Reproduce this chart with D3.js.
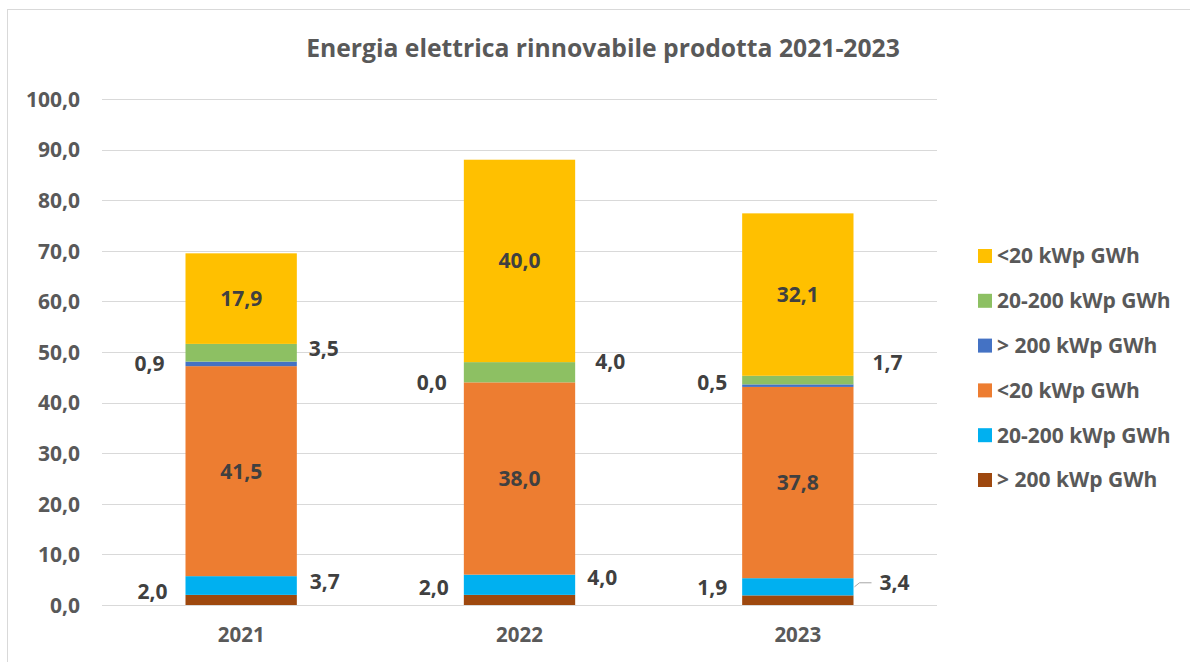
<!DOCTYPE html>
<html>
<head>
<meta charset="utf-8">
<script src="https://cdn.jsdelivr.net/npm/d3@7"></script>
<style>
  html, body { margin: 0; padding: 0; background: #fff; }
  svg { display: block; font-family: "Open Sans", "Noto Sans", sans-serif; }
</style>
</head>
<body>
<svg id="chart" width="1190" height="662"></svg>
<script>
// ---------- data ----------
const title = "Energia elettrica rinnovabile prodotta 2021-2023";
const categories = ["2021", "2022", "2023"];
const seriesNames = ["> 200 kWp GWh", "20-200 kWp GWh", "<20 kWp GWh", "> 200 kWp GWh", "20-200 kWp GWh", "<20 kWp GWh"];
const s1 = [2.0, 2.0, 1.9];     // > 200 kWp (brown)
const s2 = [3.7, 4.0, 3.4];     // 20-200 kWp (light blue)
const s3 = [41.5, 38.0, 37.8];  // <20 kWp (orange)
const s4 = [0.9, 0.0, 0.5];     // > 200 kWp (blue)
const s5 = [3.5, 4.0, 1.7];     // 20-200 kWp (green)
const s6 = [17.9, 40.0, 32.1];  // <20 kWp (yellow)
const yTicks = [0, 10, 20, 30, 40, 50, 60, 70, 80, 90, 100];

// ---------- style / layout ----------
const colors = ["#9E480E", "#00B0F0", "#ED7D31", "#4472C4", "#8DC063", "#FFC000"];
const labelSide = ["left", "right", "center", "left", "right", "center"];
// pixel nudges for the hand-placed labels: [dx, dy] per series, per category
const labelNudge = [
  [[-18, -8], [-15, -12], [-15, -13]],
  [[13, -4], [12, -7], [26, -4]],
  [[0, 0], [0, 0], [0, 0]],
  [[-21, 0], [-17, 0], [-15, -3]],
  [[12, -4], [20, -11], [19, -17]],
  [[0, 0], [0, 0], [0, 0]]
];
const textColor = "#595959";
const labelColor = "#404040";
const fontTick = 21, fontCat = 20.5, fontLabel = 21, fontLegend = 21;

const seriesValues = [s1, s2, s3, s4, s5, s6];
const svg = d3.select("#chart");

const margin = { left: 102, right: 253, top: 99, bottom: 57 };
const W = 1190, H = 662;

// border
svg.append("rect").attr("x", 7.5).attr("y", 9.5).attr("width", 1200).attr("height", 700)
  .attr("fill", "none").attr("stroke", "#d9d9d9").attr("stroke-width", 1);

const x = d3.scaleBand().domain(categories).range([margin.left, W - margin.right]).paddingInner(0.6).paddingOuter(0.3);
const y = d3.scaleLinear().domain([0, 100]).range([H - margin.bottom, margin.top]);

// gridlines
svg.append("g").selectAll("line").data(yTicks).join("line")
  .attr("x1", margin.left).attr("x2", W - margin.right)
  .attr("y1", d => Math.round(y(d)) + 0.5).attr("y2", d => Math.round(y(d)) + 0.5)
  .attr("stroke", "#d9d9d9").attr("stroke-width", 1);

// y axis labels
const yAxis = d3.axisLeft(y).tickValues(yTicks).tickSize(0).tickPadding(0)
  .tickFormat(d => d3.format(".1f")(d).replace(".", ","));
const gy = svg.append("g").attr("transform", "translate(80,0)").call(yAxis);
gy.select(".domain").remove();
gy.selectAll("text").attr("fill", textColor).attr("font-size", fontTick).attr("font-weight", "bold")
  .attr("font-family", "'Open Sans', sans-serif").attr("dy", "0.35em");

// x axis labels
const xAxis = d3.axisBottom(x).tickSize(0).tickPadding(0);
const gx = svg.append("g").attr("transform", `translate(0,${y(0)})`).call(xAxis);
gx.select(".domain").remove();
gx.selectAll("text").attr("fill", textColor).attr("font-size", fontCat).attr("font-weight", "bold")
  .attr("font-family", "'Open Sans', sans-serif").attr("y", 30).attr("dy", "0.35em");

// stacked data
const rows = categories.map((c, i) => {
  const o = { cat: c };
  seriesValues.forEach((s, k) => o["s" + k] = s[i]);
  return o;
});
const keys = seriesValues.map((_, k) => "s" + k);
const stacked = d3.stack().keys(keys)(rows);

const gBars = svg.append("g");
stacked.forEach((layer, k) => {
  gBars.append("g").attr("fill", colors[k]).selectAll("rect").data(layer).join("rect")
    .attr("x", d => x(d.data.cat))
    .attr("width", x.bandwidth())
    .attr("y", d => y(d[1]))
    .attr("height", d => Math.max(0, y(d[0]) - y(d[1])));
});

// data labels
const gLab = svg.append("g").attr("font-size", fontLabel).attr("font-weight", "bold").attr("fill", labelColor);
stacked.forEach((layer, k) => {
  layer.forEach((d, i) => {
    const v = seriesValues[k][i];
    const cy = (y(d[0]) + y(d[1])) / 2 + labelNudge[k][i][1];
    const side = labelSide[k];
    let tx, anchor;
    if (side === "center") { tx = x(d.data.cat) + x.bandwidth() / 2; anchor = "middle"; }
    else if (side === "left") { tx = x(d.data.cat) + labelNudge[k][i][0]; anchor = "end"; }
    else { tx = x(d.data.cat) + x.bandwidth() + labelNudge[k][i][0]; anchor = "start"; }
    gLab.append("text").attr("x", tx).attr("y", cy).attr("dy", "0.35em")
      .attr("text-anchor", anchor).text(d3.format(".1f")(v).replace(".", ","));
  });
});

// leader line for 2023 light-blue label
{
  const d = stacked[1][2];
  const bx = x(d.data.cat) + x.bandwidth();
  const cy = (y(d[0]) + y(d[1])) / 2;
  const ly = cy + labelNudge[1][2][1];
  svg.append("path")
    .attr("d", `M${bx + 1},${cy} L${bx + 6},${ly} L${bx + labelNudge[1][2][0] - 8},${ly}`)
    .attr("fill", "none").attr("stroke", "#a6a6a6").attr("stroke-width", 1);
}

// legend (top to bottom: reverse stack order)
const legendOrder = d3.range(seriesNames.length).reverse();
const gLeg = svg.append("g");
legendOrder.forEach((k, j) => {
  const ly = 256 + j * 44.8;
  gLeg.append("rect").attr("x", 978).attr("y", ly - 7).attr("width", 14).attr("height", 14).attr("fill", colors[k]);
  gLeg.append("text").attr("x", 997).attr("y", ly).attr("dy", "0.35em")
    .attr("font-size", fontLegend).attr("font-weight", "bold").attr("fill", textColor).text(seriesNames[k]);
});

// title
const t = svg.append("text").attr("x", 603).attr("y", 48).attr("dy", "0.35em").attr("text-anchor", "middle")
  .attr("font-size", 22).attr("font-weight", "bold").attr("fill", textColor).text(title);
const tw = t.node().getComputedTextLength();
t.attr("font-size", 22 * 594 / tw);
</script>
</body>
</html>
